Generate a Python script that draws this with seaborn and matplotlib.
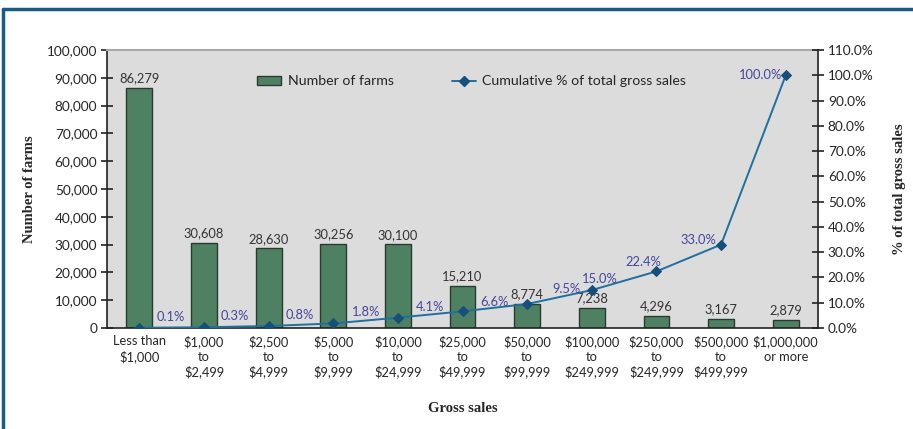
import matplotlib
matplotlib.use("Agg")
import matplotlib.pyplot as plt
import matplotlib.lines as mlines
import matplotlib.patches as mpatches
import seaborn as sns
import pandas as pd
from matplotlib.ticker import FuncFormatter, FixedLocator, MultipleLocator

categories = ["Less than\n$1,000", "$1,000\nto\n$2,499", "$2,500\nto\n$4,999", "$5,000\nto\n$9,999",
              "$10,000\nto\n$24,999", "$25,000\nto\n$49,999", "$50,000\nto\n$99,999",
              "$100,000\nto\n$249,999", "$250,000\nto\n$249,999", "$500,000\nto\n$499,999",
              "$1,000,000\nor more"]
farms = [86279, 30608, 28630, 30256, 30100, 15210, 8774, 7238, 4296, 3167, 2879]
cum_pct = [0.1, 0.3, 0.8, 1.8, 4.1, 6.6, 9.5, 15.0, 22.4, 33.0, 100.0]

df = pd.DataFrame({"cat": categories, "farms": farms, "pct": cum_pct, "pos": range(len(categories))})

sns.set_style("white")
plt.rcParams['font.family'] = ['Lato', 'DejaVu Sans']

fig = plt.figure(figsize=(9.13, 4.29), dpi=100)
ax = fig.add_axes([0.1172, 0.2354, 0.896 - 0.1172, 0.8834 - 0.2354])
ax.set_facecolor("#dcdcdc")

bar_color = "#4e8062"
sns.barplot(data=df, x="cat", y="farms", ax=ax, color=bar_color, width=0.4,
            edgecolor="#2b3a30", linewidth=1.0, saturation=1)
ax.set_xlim(-0.5, len(categories) - 0.5)
ax.set_ylim(0, 100000)
ax.yaxis.set_major_locator(MultipleLocator(10000))
ax.yaxis.set_major_formatter(FuncFormatter(lambda v, p: f"{int(v):,}"))
ax.tick_params(axis="y", direction="inout", length=8, width=1.2, color="#222222", labelsize=9.8, pad=3)
ax.tick_params(axis="x", which="major", length=0, labelsize=9.3, pad=5)
ax.xaxis.set_minor_locator(FixedLocator([i + 0.5 for i in range(len(categories) - 1)]))
ax.tick_params(axis="x", which="minor", direction="inout", length=8, width=1.2, color="#222222")
ax.set_xlabel("Gross sales", fontsize=10.5, fontweight="bold", family="Liberation Serif", labelpad=17)
ax.set_ylabel("Number of farms", fontsize=10.5, fontweight="bold", family="Liberation Serif", labelpad=8)
for lab in ax.get_xticklabels():
    lab.set_linespacing(1.28)

for s in ["left", "bottom"]:
    ax.spines[s].set_color("#222222")
    ax.spines[s].set_linewidth(1.2)
ax.spines["top"].set_color("#a8a8a8")
ax.spines["top"].set_linewidth(1.5)
ax.spines["right"].set_visible(False)

for i, v in enumerate(farms):
    ax.text(i, v + 1300, f"{v:,}", ha="center", va="bottom", fontsize=9.3, color="#333333")

ax2 = ax.twinx()
line_color = "#1f6f9f"
sns.lineplot(data=df, x="pos", y="pct", ax=ax2, color=line_color, linewidth=1.4,
             marker="D", markersize=5, markerfacecolor="#164f7c", markeredgecolor="#164f7c")
ax2.set_xlim(-0.5, len(categories) - 0.5)
ax2.set_ylim(0, 110)
ax2.yaxis.set_major_locator(MultipleLocator(10))
ax2.yaxis.set_major_formatter(FuncFormatter(lambda v, p: f"{v:.1f}%"))
ax2.tick_params(axis="y", direction="inout", length=8, width=1.2, color="#222222", labelsize=9.8, pad=3)
ax2.set_ylabel("% of total gross sales", fontsize=10.5, fontweight="bold", family="Liberation Serif",
               labelpad=14)
ax2.set_xlabel("")
for s in ["left", "top", "bottom"]:
    ax2.spines[s].set_visible(False)
ax2.spines["right"].set_color("#222222")
ax2.spines["right"].set_linewidth(1.2)

label_offsets = [(31, 11), (31, 11), (31, 11), (33, 11), (32, 11), (32, 9), (39, 15),
                 (8, 11), (-13, 9), (-23, 5), (-25, 0)]
for i, (v, off) in enumerate(zip(cum_pct, label_offsets)):
    ax2.annotate(f"{v:.1f}%", (i, v), xytext=off, textcoords="offset pixels",
                 ha="center", va="center", fontsize=9.3, color="#45459a")

h1 = mpatches.Patch(facecolor=bar_color, edgecolor="#2b3a30", linewidth=1.0)
h2 = mlines.Line2D([], [], color=line_color, linewidth=1.4, marker="D", markersize=5,
                   markerfacecolor="#164f7c", markeredgecolor="#164f7c")
ax2.legend([h1, h2], ["Number of farms", "Cumulative % of total gross sales"], ncol=2, frameon=False,
           loc="upper center", bbox_to_anchor=(0.513, 0.955), fontsize=10.2, columnspacing=4.1,
           handlelength=1.7, handletextpad=0.45, handleheight=0.6)

border_color = "#1b5a87"
fig.add_artist(mlines.Line2D([3 / 913, 3 / 913], [0, 1 - 9 / 429], transform=fig.transFigure,
                             color=border_color, linewidth=2.5))
fig.add_artist(mlines.Line2D([3 / 913, 1], [1 - 9 / 429, 1 - 9 / 429], transform=fig.transFigure,
                             color=border_color, linewidth=2.5))

fig.savefig("out.png", dpi=100)
